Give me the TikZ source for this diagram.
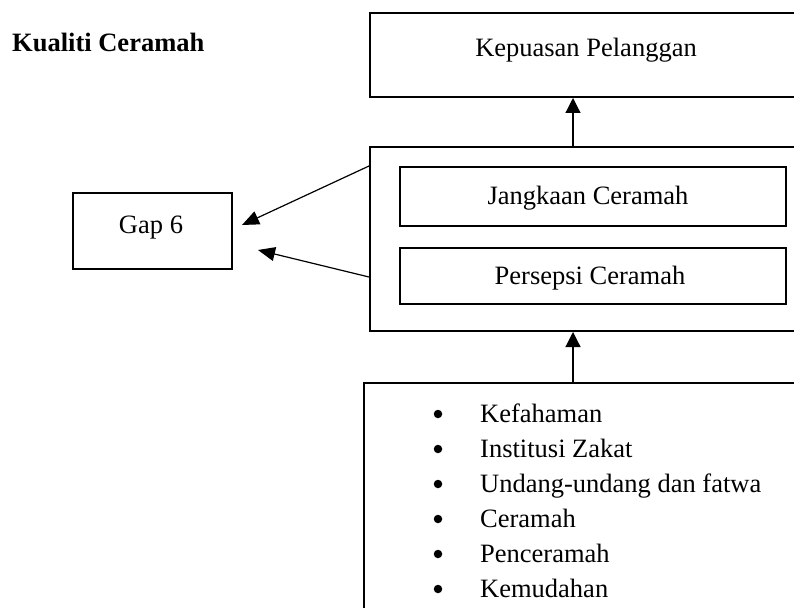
\documentclass[tikz,border=0pt]{standalone}
\usepackage{fontspec}
\setmainfont{Liberation Serif}
\usetikzlibrary{arrows.meta}
\begin{document}
\begin{tikzpicture}[x=1pt,y=-1pt,
  box/.style={draw,line width=2pt,inner sep=0pt,anchor=north west},
  lbl/.style={font=\fontsize{26.5}{32}\selectfont,inner sep=0pt,anchor=base},
  bul/.style={circle,fill=black,minimum size=8.5pt,inner sep=0pt},
  arr/.style={line width=1.2pt,-{Triangle[length=15pt,width=15pt]}},
  arrg/.style={line width=1.2pt,-{Triangle[length=17pt,width=14pt]}}]
\clip (0,0) rectangle (794,607);
\fill[white] (0,0) rectangle (794,607);
% boxes
\node[box,minimum width=461pt,minimum height=84pt] (top) at (369,12) {};
\node[box,minimum width=500pt,minimum height=184pt] (mid) at (369,146) {};
\node[box,minimum width=386pt,minimum height=59pt] (jang) at (399,166) {};
\node[box,minimum width=386pt,minimum height=56pt] (pers) at (399,247) {};
\node[box,minimum width=159pt,minimum height=76pt] (gap) at (72,192) {};
\node[box,minimum width=500pt,minimum height=300pt] (bot) at (363,382) {};
% texts
\node[lbl,anchor=base west,font=\fontsize{26.5}{32}\selectfont\bfseries] (title) at (12,52) {Kualiti Ceramah};
\node[lbl] (tkep) at (586,57) {Kepuasan Pelanggan};
\node[lbl] (tjang) at (588,204) {Jangkaan Ceramah};
\node[lbl] (tpers) at (590,284) {Persepsi Ceramah};
\node[lbl] (tgap) at (151,233) {Gap 6};
\foreach \t [count=\i] in {Kefahaman,Institusi Zakat,Undang-undang dan fatwa,Ceramah,Penceramah,Kemudahan}{
  \node[bul] (b\i) at (438,{379+35*\i}) {};
  \node[lbl,anchor=base west] (t\i) at (480,{387+35*\i}) {\t};
}
% connectors
\coordinate (ax) at (573,0);
\draw[arr] (mid.north -| ax) -- (top.south -| ax);
\draw[arr] (bot.north -| ax) -- (mid.south -| ax);
\coordinate (s1) at (369,166);
\coordinate (s2) at (369,277);
\coordinate (g1) at (242,225);
\coordinate (g2) at (258,250);
\draw[arrg] (s1) -- (g1);
\draw[arrg] (s2) -- (g2);
\end{tikzpicture}
\end{document}
